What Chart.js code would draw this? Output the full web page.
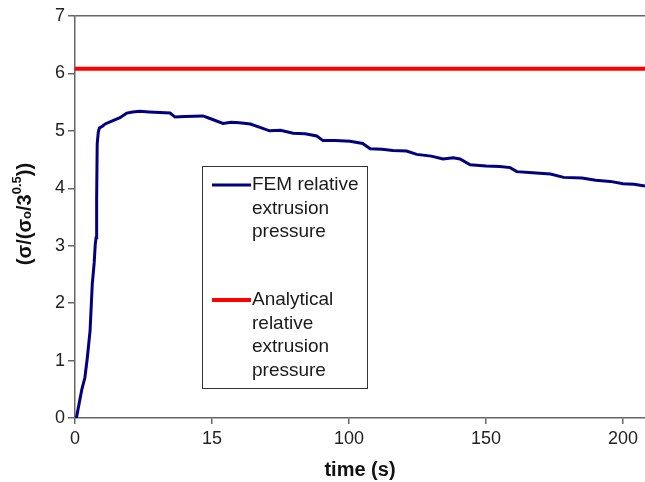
<!DOCTYPE html>
<html>
<head>
<meta charset="utf-8">
<script src="https://cdn.jsdelivr.net/npm/chart.js@4/dist/chart.umd.min.js"></script>
<style>
  html, body { margin: 0; padding: 0; background: #fff; }
  canvas { display: block; }
</style>
</head>
<body>
<canvas id="myChart" width="645" height="482"></canvas>
<script>
// datos
const femTime = [0.5, 1.5, 2.5, 3.6, 4.5, 5.5, 6.3, 7.0, 7.4, 7.7,
  7.9, 8.1, 8.5, 8.9, 10, 11, 13, 16.4, 18.9, 21,
  23.7, 27, 31, 34.7, 36.5, 40, 46.7, 49, 54, 57,
  60, 64, 67.5, 71, 75, 79.6, 84, 88.2, 90.5, 95,
  100.4, 105, 107.7, 112, 116, 121, 124.7, 130, 134.3, 138,
  140.5, 144.2, 150, 155, 158.8, 161.2, 167, 173.5, 178.3, 185,
  190, 195.3, 200, 204, 208];
const femValue = [0, 0.25, 0.5, 0.7, 1.05, 1.52, 2.33, 2.7, 3.03, 3.14,
  3.83, 4.77, 4.98, 5.05, 5.08, 5.12, 5.16, 5.23, 5.31, 5.33,
  5.34, 5.33, 5.32, 5.31, 5.24, 5.25, 5.26, 5.22, 5.13, 5.15,
  5.14, 5.12, 5.06, 5.0, 5.01, 4.96, 4.95, 4.91, 4.83, 4.83,
  4.82, 4.78, 4.69, 4.68, 4.66, 4.65, 4.59, 4.56, 4.51, 4.53,
  4.51, 4.41, 4.39, 4.38, 4.36, 4.29, 4.27, 4.25, 4.19, 4.18,
  4.14, 4.12, 4.08, 4.07, 4.04];
const analyticalTime = [0, 208];
const analyticalValue = [6.08, 6.08];

const xTickValues = [0, 50, 100, 150, 200];
const xTickLabels = ['0', '15', '100', '150', '200'];
const yTickValues = [0, 1, 2, 3, 4, 5, 6, 7];

const legendItems = [
  { color: '#000080', lines: ['FEM relative', 'extrusion', 'pressure'] },
  { color: '#ff0000', lines: ['Analytical', 'relative', 'extrusion', 'pressure'] }
];

const toPoints = (xs, ys) => xs.map((x, i) => ({ x: x, y: ys[i] }));

// leyenda con texto en varias lineas
const legendBox = {
  id: 'legendBox',
  afterDraw(chart) {
    const ctx = chart.ctx;
    ctx.save();
    ctx.fillStyle = '#fff';
    ctx.fillRect(202, 166, 165, 222);
    ctx.strokeStyle = '#333';
    ctx.lineWidth = 1;
    ctx.strokeRect(202.5, 166.5, 165, 222);
    ctx.font = '19px "Liberation Sans", Arial, sans-serif';
    ctx.fillStyle = '#1a1a1a';
    ctx.textBaseline = 'middle';
    const starts = [185, 300];
    legendItems.forEach((item, k) => {
      ctx.strokeStyle = item.color;
      ctx.lineWidth = k === 0 ? 3 : 4;
      ctx.beginPath();
      ctx.moveTo(212, starts[k]);
      ctx.lineTo(251, starts[k]);
      ctx.stroke();
      item.lines.forEach((t, j) => {
        ctx.fillText(t, 252, starts[k] + j * 23.5);
      });
    });
    ctx.restore();
  }
};

// titulo del eje y con subindice y superindice
const yTitle = {
  id: 'yTitle',
  afterDraw(chart) {
    const ctx = chart.ctx;
    const parts = [
      { t: '(σ/(σ', size: 20, dy: 0 },
      { t: 'o', size: 13, dy: 0 },
      { t: '/3', size: 20, dy: 0 },
      { t: '0.5', size: 13, dy: -10 },
      { t: '))', size: 20, dy: 0 }
    ];
    ctx.save();
    let total = 0;
    parts.forEach(p => {
      ctx.font = 'bold ' + p.size + 'px "Liberation Sans", Arial, sans-serif';
      p.w = ctx.measureText(p.t).width;
      total += p.w;
    });
    ctx.translate(31, 214 + total / 2);
    ctx.rotate(-Math.PI / 2);
    ctx.fillStyle = '#111';
    ctx.textBaseline = 'alphabetic';
    let x = 0;
    parts.forEach(p => {
      ctx.font = 'bold ' + p.size + 'px "Liberation Sans", Arial, sans-serif';
      ctx.fillText(p.t, x, p.dy);
      x += p.w;
    });
    ctx.restore();
  }
};

const ctx = document.getElementById('myChart').getContext('2d');
new Chart(ctx, {
  type: 'line',
  data: {
    datasets: [{
      label: 'FEM relative extrusion pressure',
      data: toPoints(femTime, femValue),
      borderColor: '#000080',
      borderWidth: 3,
      pointRadius: 0,
      tension: 0
    }, {
      label: 'Analytical relative extrusion pressure',
      data: toPoints(analyticalTime, analyticalValue),
      borderColor: '#ff0000',
      borderWidth: 4,
      pointRadius: 0
    }]
  },
  options: {
    responsive: false,
    animation: false,
    layout: { padding: { top: 16, right: 0, left: 0, bottom: 0 } },
    plugins: { legend: { display: false }, tooltip: { enabled: false } },
    scales: {
      x: {
        type: 'linear',
        min: 0,
        max: 208,
        afterFit: s => { s.height = 64; },
        afterBuildTicks: s => { s.ticks = xTickValues.map(v => ({ value: v })); },
        ticks: {
          font: { family: '"Liberation Sans", Arial, sans-serif', size: 18 },
          color: '#222',
          padding: 4,
          maxRotation: 0,
          callback: v => xTickLabels[xTickValues.indexOf(v)]
        },
        grid: { drawOnChartArea: false, tickLength: 6, color: '#666', lineWidth: 1.5 },
        border: { color: '#666', width: 1.5 },
        title: {
          display: true,
          text: 'time (s)',
          font: { family: '"Liberation Sans", Arial, sans-serif', size: 20, weight: 'bold' },
          color: '#111',
          padding: { top: 4, bottom: 0 }
        }
      },
      y: {
        min: 0,
        max: 7,
        afterFit: s => { s.width = 75; },
        afterBuildTicks: s => { s.ticks = yTickValues.map(v => ({ value: v })); },
        ticks: {
          font: { family: '"Liberation Sans", Arial, sans-serif', size: 18 },
          color: '#222',
          padding: 3
        },
        grid: {
          tickLength: 7,
          lineWidth: 1.5,
          tickColor: '#666',
          color: c => (c.tick && c.tick.value === 7 ? '#666' : 'rgba(0,0,0,0)')
        },
        border: { color: '#666', width: 1.5 }
      }
    }
  },
  plugins: [legendBox, yTitle]
});
</script>
</body>
</html>
